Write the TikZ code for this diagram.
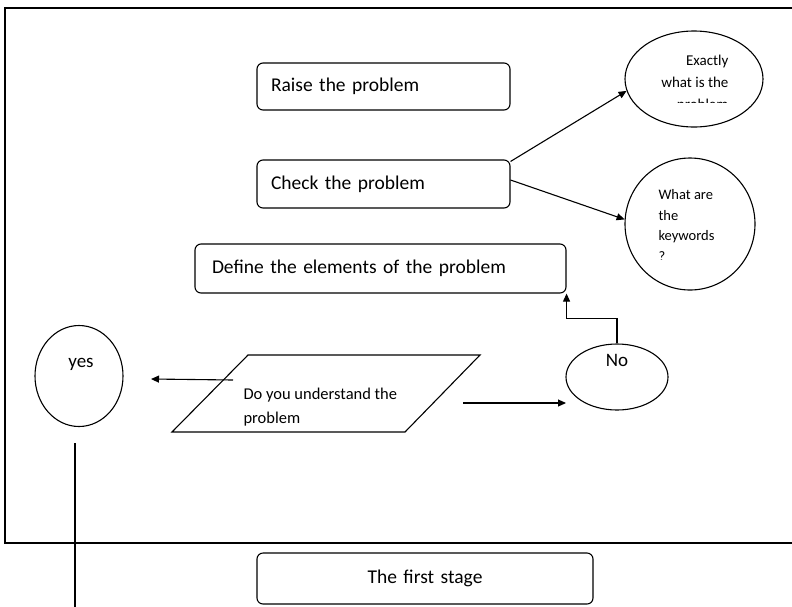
\documentclass[tikz,border=0pt]{standalone}
\usepackage{fontspec}
\setmainfont{Carlito}
\usetikzlibrary{arrows.meta,shapes.geometric,calc}
\begin{document}
\begin{tikzpicture}[x=1pt,y=-1pt,
  line width=1.1pt,
  box/.style={draw, rounded corners=6pt, inner ysep=0pt,
    font=\fontsize{19.5}{23}\selectfont},
  ell/.style={draw, ellipse, inner sep=0pt},
  arr/.style={-{Triangle[length=8pt,width=7pt]}},
  lbl/.style={inner sep=0pt, font=\fontsize{19}{23}\selectfont},
]
\clip (0,0) rectangle (792,606);

% outer frame (right side runs past the page edge)
\draw[line width=1.4pt] (5,8) rectangle (840,543);

% process boxes
\node[box, text width=225pt, inner xsep=14pt, minimum height=47pt, align=left]
  (raise) at (383.5,86.5) {Raise the problem};
\node[box, text width=225pt, inner xsep=14pt, minimum height=48pt, align=left]
  (check) at (383.5,184) {Check the problem};
\node[box, text width=337pt, inner xsep=17pt, minimum height=49pt, align=left]
  (define) at (380.5,268.5) {Define the elements of the problem};
\node[box, text width=308pt, inner xsep=14pt, minimum height=51pt, align=center]
  (first) at (425,578.5) {The first stage};

% question ellipses beside the check step
\node[ell, minimum width=138pt, minimum height=96pt] (exactly) at (694,79) {};
\begin{scope}
  \clip (620,30) rectangle (770,102);
  \node[anchor=north east, inner sep=0pt, align=right,
    font=\fontsize{15}{22}\selectfont] (exactlytxt) at (729,54.5)
    {Exactly\\what is the\\problem};
\end{scope}

\node[ell, minimum width=130pt, minimum height=132pt] (keywords) at (690,224) {};
\begin{scope}
  \clip (620,150) rectangle (760,259);
  \node[anchor=north west, inner sep=0pt, align=left,
    font=\fontsize{14.5}{20.5}\selectfont] (keytxt) at (658,189)
    {What are\\the\\keywords\\?};
\end{scope}

% decision parallelogram
\coordinate (pTL) at (248,355);
\coordinate (pTR) at (480,355);
\coordinate (pBR) at (405,432);
\coordinate (pBL) at (172,432);
\draw (pTL) -- (pTR) -- (pBR) -- (pBL) -- cycle;
\node[anchor=north west, inner sep=0pt, align=left,
  font=\fontsize{16.5}{24}\selectfont] (ask) at (243,387)
  {Do you understand the\\problem};

% answers
\node[ell, minimum width=88pt, minimum height=101pt] (yes) at (79,376) {};
\node[lbl, anchor=base] (yestxt) at (81,367) {yes};
\node[ell, minimum width=102pt, minimum height=66pt] (no) at (617,377) {};
\node[lbl, anchor=base] (notxt) at (617,366) {No};

% connectors
\draw[arr] ($(check.north east)+(0,2)$) -- (exactly.190);
\draw[arr] ($(check.east)+(0,-4)$) -- (keywords.176);

\coordinate (askL) at (233,380);
\coordinate (yesIn) at (151,379);
\draw[arr] (askL) -- (yesIn);

\coordinate (askR) at (463,403);
\coordinate (noIn) at (566,403);
\draw[arr] (askR) -- (noIn);

\draw[arr] (no.north) -- ++(0,-25) -| (define.south east);

\coordinate (yesTail) at (75,443);
\coordinate (yesEnd) at (75,612);
\draw (yesTail) -- (yesEnd);
\end{tikzpicture}
\end{document}
